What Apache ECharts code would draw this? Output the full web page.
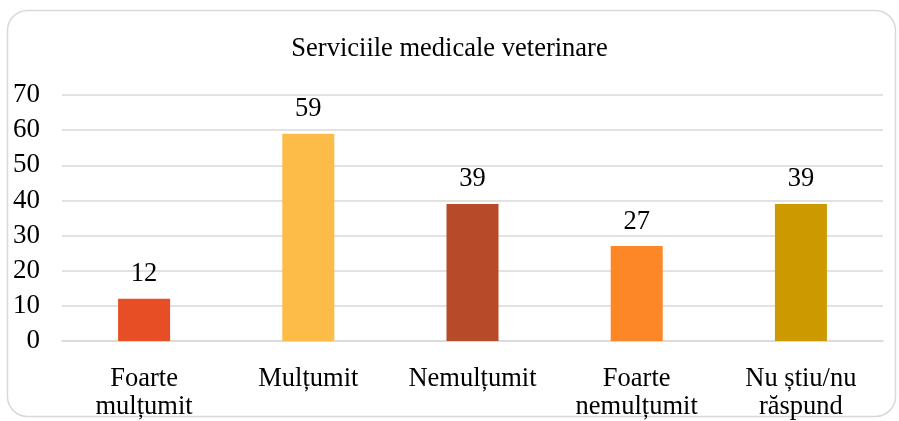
<!DOCTYPE html>
<html>
<head>
<meta charset="utf-8">
<script src="https://cdn.jsdelivr.net/npm/echarts@6/dist/echarts.min.js"></script>
<style>
html, body { margin: 0; padding: 0; background: #fff; }
#main { width: 899px; height: 421px; }
</style>
</head>
<body>
<div id="main"></div>
<script>
var categories = ['Foarte\nmulțumit', 'Mulțumit', 'Nemulțumit', 'Foarte\nnemulțumit', 'Nu știu/nu\nrăspund'];
var values = [12, 59, 39, 27, 39];
var barColors = ['#E84E25', '#FDBB48', '#B74A29', '#FD8627', '#CC9900'];

var font = '"Liberation Serif", "Times New Roman", serif';
var myChart = echarts.init(document.getElementById('main'));

var option = {
    backgroundColor: '#fff',
    animation: false,
    graphic: [{
        type: 'rect',
        shape: { x: 7.5, y: 10.5, width: 888, height: 406, r: 20 },
        style: { fill: 'none', stroke: '#d9d9d9', lineWidth: 1.5 },
        z: -1
    }],
    title: {
        text: 'Serviciile medicale veterinare',
        left: 'center',
        top: 31,
        textStyle: { fontFamily: font, fontSize: 26.5, fontWeight: 'normal', color: '#000' }
    },
    grid: { left: 62, right: 16, top: 95, bottom: 80 },
    xAxis: {
        type: 'category',
        data: categories,
        axisLine: { lineStyle: { color: '#d9d9d9', width: 1.5 } },
        axisTick: { show: false },
        axisLabel: {
            interval: 0,
            margin: 24,
            color: '#000',
            fontFamily: font,
            fontSize: 26.5,
            lineHeight: 28
        }
    },
    yAxis: {
        type: 'value',
        min: 0,
        max: 70,
        interval: 10,
        axisLine: { show: false },
        axisTick: { show: false },
        splitLine: { lineStyle: { color: '#d9d9d9', width: 1.5 } },
        axisLabel: { margin: 22, color: '#000', fontFamily: font, fontSize: 27, padding: [4, 0, 0, 0] }
    },
    series: [{
        type: 'bar',
        barWidth: 52,
        data: values.map(function (v, i) {
            return { value: v, itemStyle: { color: barColors[i] } };
        }),
        label: {
            show: true,
            position: 'top',
            distance: 11,
            color: '#000',
            fontFamily: font,
            fontSize: 26.5
        }
    }]
};
myChart.setOption(option);
</script>
</body>
</html>
